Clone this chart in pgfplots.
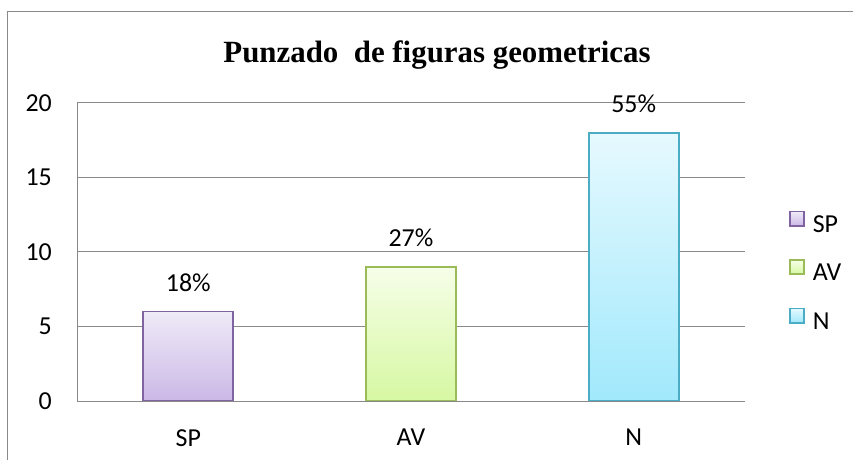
\documentclass[border=0pt]{standalone}
\usepackage{pgfplots}
\pgfplotsset{compat=1.18}
\usepackage{fontspec}
\setmainfont{Carlito}
\newfontfamily\titlefont{Liberation Serif}
\definecolor{spB}{HTML}{8064A2}
\definecolor{spT}{HTML}{EFEBF8}
\definecolor{spD}{HTML}{CBB8E6}
\definecolor{avB}{HTML}{9BBB59}
\definecolor{avT}{HTML}{F6FEE8}
\definecolor{avD}{HTML}{D6F8A2}
\definecolor{nB}{HTML}{4BACC6}
\definecolor{nT}{HTML}{E6F9FE}
\definecolor{nD}{HTML}{A1E9FC}
\definecolor{gridc}{HTML}{898989}
\begin{document}
\begin{tikzpicture}
\path[use as bounding box] (0bp,0bp) rectangle (853bp,460bp);
\draw[gridc, line width=1bp] (7bp,0bp) -- (7bp,448bp) -- (853bp,448bp);
\node[font=\titlefont\bfseries\fontsize{31}{36}\selectfont, anchor=base, inner sep=0pt] at (437bp,397bp) {Punzado\ \ de figuras geometricas};
\begin{axis}[
  at={(77bp,59bp)}, anchor=south west,
  width=668bp, height=298bp, scale only axis,
  xmin=-0.5, xmax=2.5, ymin=0, ymax=20,
  xtick={0,1,2}, xticklabels={SP,AV,N},
  ytick={0,5,10,15,20},
  axis x line*=bottom, axis y line*=left,
  axis line style={gridc, line width=1bp, -},
  ymajorgrids, grid style={gridc, line width=1bp},
  major tick length=0pt,
  tick label style={font=\fontsize{26}{30}\selectfont, text=black},
  /pgf/number format/assume math mode=true,
  yticklabel style={anchor=east, inner sep=0pt, xshift=-25bp},
  xticklabel style={anchor=north, inner sep=0pt, yshift=-28bp},
  ybar, bar width=90bp, bar shift=0pt,
  point meta=explicit symbolic,
  nodes near coords,
  nodes near coords style={font=\fontsize{26}{30}\selectfont, text=black, anchor=south, inner sep=0pt, yshift=19bp},
  legend style={at={(1.064,0.43)}, anchor=west, draw=none, fill=none, inner sep=0pt,
    font=\fontsize{26}{30}\selectfont, row sep=21bp, column sep=0bp,
    nodes={inner sep=0pt, text height=18bp, text depth=6bp}},
  legend cell align=left,
  legend image code/.code={\draw[#1, line width=1.8bp] (0.9bp,0.4bp) rectangle (15.1bp,14.6bp); \path (0bp,0bp) (23bp,0bp);},
]
\addplot[draw=spB, line width=1.8bp, top color=spT, bottom color=spD] coordinates {(0,6) [18\%]};
\addlegendentry{SP}
\addplot[draw=avB, line width=1.8bp, top color=avT, bottom color=avD] coordinates {(1,9) [27\%]};
\addlegendentry{AV}
\addplot[draw=nB, line width=1.8bp, top color=nT, bottom color=nD] coordinates {(2,18) [55\%]};
\addlegendentry{N}
\end{axis}
\end{tikzpicture}
\end{document}
